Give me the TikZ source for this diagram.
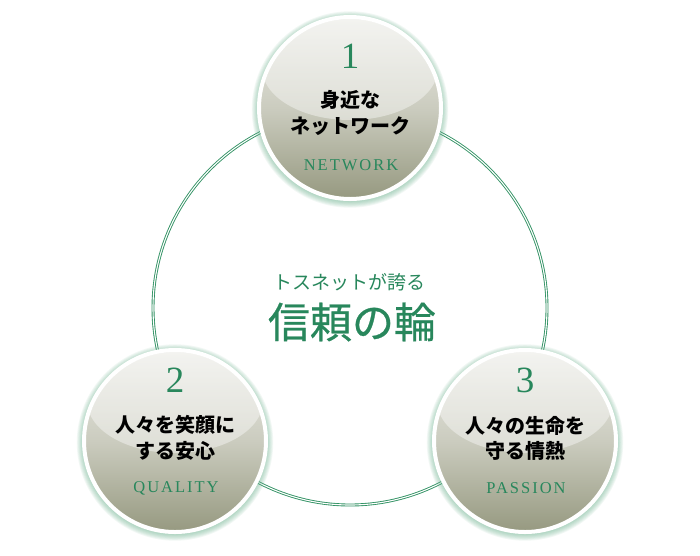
\documentclass[tikz,border=0pt]{standalone}
\usepackage{fontspec}
\newfontfamily\jp{Noto Sans CJK JP}
\newfontfamily\jpm[FakeBold=0.6]{Noto Sans CJK JP}
\newfontfamily\enf[LetterSpace=12]{Liberation Serif}
\newfontfamily\numf{Liberation Serif}
\definecolor{tgreen}{RGB}{40,135,92}
\definecolor{ringgreen}{RGB}{50,146,100}
\definecolor{glowgreen}{RGB}{110,180,145}
\definecolor{ctop}{RGB}{236,236,231}
\definecolor{cmid}{RGB}{203,204,191}
\definecolor{cbot}{RGB}{150,153,128}
\begin{document}
\begin{tikzpicture}[x=1pt,y=-1pt,
  ball/.style={circle, draw=white, line width=4pt, minimum size=182pt, inner sep=0pt,
    top color=ctop, bottom color=cbot, middle color=cmid},
  num/.style={text=tgreen, font=\numf\fontsize{37}{37}\selectfont},
  jtitle/.style={text=black, font=\jp\bfseries\fontsize{20}{20}\selectfont},
  eng/.style={text=tgreen, font=\enf\fontsize{16.5}{16.5}\selectfont},
  ringline/.style={draw=ringgreen, line width=0.9pt, double=white, double distance=1.1pt},
  lead/.style={text=tgreen, font=\jp\fontsize{19}{19}\selectfont},
  bigtitle/.style={text=tgreen, font=\jpm\fontsize{42}{42}\selectfont}]
\fill[white] (0,0) rectangle (700,555);
\useasboundingbox (0,0) rectangle (700,555);
% ring
\coordinate (rc) at (350,308);
\draw[ringline] (rc) circle (197pt);
% centres
\coordinate (p1) at (350,108);
\coordinate (p2) at (175,441);
\coordinate (p3) at (525,441);
% glow
\foreach \p in {p1,p2,p3}{
  \foreach \k in {1,...,8}{
    \fill[glowgreen, opacity=0.09] ([yshift=-1.5pt]\p) circle ({91pt+\k*0.9pt});
  }
}
% balls
\foreach \p/\b in {p1/b1,p2/b2,p3/b3}{
  \node[ball] (\b) at (\p) {};
  \begin{scope}
    \clip (\b.center) circle (89pt);
    \fill[white, fill opacity=0.4] ([yshift=40pt]\b.center) ellipse (88pt and 52pt);
  \end{scope}
}
% circle 1
\node[num] (n1) at (350,56) {1};
\node[jtitle] (t1a) at (350,100) {身近な};
\node[jtitle] (t1b) at (350,126) {ネットワーク};
\node[eng] (e1) at (351,165) {NETWORK};
% circle 2
\node[num] (n2) at (175,380) {2};
\node[jtitle] (t2a) at (175,425) {人々を笑顔に};
\node[jtitle] (t2b) at (175,451) {する安心};
\node[eng] (e2) at (176,488) {QUALITY};
% circle 3
\node[num] (n3) at (525,380) {3};
\node[jtitle] (t3a) at (525,426) {人々の生命を};
\node[jtitle] (t3b) at (525,451) {守る情熱};
\node[eng] (e3) at (526,488) {PASSION};
% centre
\node[lead] (lead) at (349,282) {トスネットが誇る};
\node[bigtitle] (big) at (352,322) {信頼の輪};
\end{tikzpicture}
\end{document}
